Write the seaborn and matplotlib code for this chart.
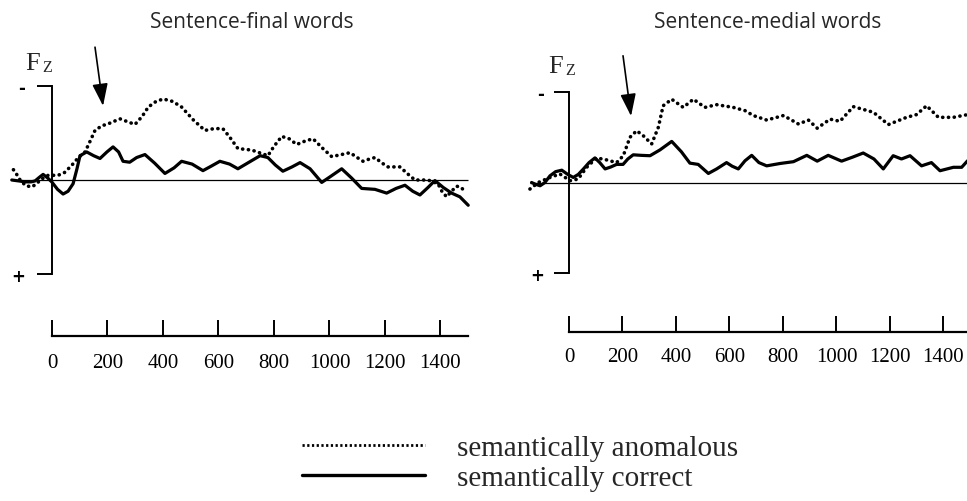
import numpy as np
import pandas as pd
import matplotlib
matplotlib.use('Agg')
import matplotlib.pyplot as plt
import seaborn as sns
from matplotlib.lines import Line2D

# ERP at Fz, values in microvolts (negative plotted up), time in ms
# Sentence-final words
final_correct_t = [-145, -120, -97, -75, -61, -45, -32, -15, -1, 20, 40, 58, 76, 90, 101, 125, 150,
                   173, 198, 220, 240, 256, 280, 305, 335, 370, 407, 440, 467, 505, 544, 575, 605,
                   640, 670, 710, 750, 778, 805, 832, 865, 894, 930, 972, 1000, 1044, 1080, 1116,
                   1164, 1206, 1240, 1272, 1300, 1326, 1355, 1380, 1410, 1440, 1470, 1500]
final_correct_v = [0.0, 0.05, 0.1, 0.1, 0.05, -0.15, -0.3, -0.1, 0.1, 0.5, 0.75, 0.6, 0.2, -0.6,
                   -1.3, -1.5, -1.3, -1.15, -1.5, -1.77, -1.5, -1.0, -0.95, -1.2, -1.36, -0.9, -0.35,
                   -0.65, -1.0, -0.85, -0.5, -0.75, -1.0, -0.85, -0.6, -0.95, -1.3, -1.2, -0.8,
                   -0.47, -0.7, -0.93, -0.6, 0.13, -0.15, -0.6, -0.1, 0.45, 0.5, 0.7, 0.45, 0.28,
                   0.6, 0.8, 0.4, 0.03, 0.4, 0.7, 0.9, 1.35]
final_anom_t = [-139, -125, -115, -95, -73, -55, -43, -14, 22, 45, 71, 95, 119, 135, 155, 180, 202,
                245, 275, 299, 325, 347, 375, 401, 435, 467, 510, 551, 585, 616, 640, 670, 720,
                778, 800, 828, 855, 882, 915, 941, 975, 1008, 1040, 1074, 1100, 1121, 1140, 1164,
                1190, 1211, 1254, 1280, 1308, 1355, 1391, 1405, 1422, 1440, 1458, 1475, 1488]
final_anom_v = [-0.55, -0.25, 0.0, 0.3, 0.37, 0.2, 0.0, -0.25, -0.25, -0.4, -0.78, -1.2, -1.5,
                -2.0, -2.65, -2.9, -3.0, -3.27, -3.1, -2.97, -3.4, -3.9, -4.2, -4.33, -4.2, -3.9,
                -3.2, -2.65, -2.75, -2.74, -2.3, -1.68, -1.6, -1.3, -1.8, -2.33, -2.2, -1.9, -2.1,
                -2.2, -1.7, -1.25, -1.35, -1.46, -1.2, -1.0, -1.1, -1.2, -0.9, -0.7, -0.7, -0.35,
                0.0, 0.0, 0.2, 0.6, 0.9, 0.6, 0.33, 0.4, 0.63]

# Sentence-medial words
medial_correct_t = [-140, -125, -108, -90, -71, -50, -27, -5, 16, 35, 54, 75, 97, 115, 135, 155,
                    178, 202, 220, 240, 270, 303, 340, 384, 420, 452, 483, 521, 552, 589, 610, 633,
                    658, 683, 710, 739, 789, 839, 889, 928, 969, 1019, 1060, 1100, 1140, 1175,
                    1212, 1243, 1275, 1318, 1355, 1387, 1437, 1468, 1490]
medial_correct_v = [0.0, 0.1, 0.18, 0.0, -0.37, -0.6, -0.68, -0.45, -0.28, -0.45, -0.75, -1.1,
                    -1.36, -1.1, -0.75, -0.85, -1.0, -1.0, -1.3, -1.53, -1.5, -1.48, -1.8, -2.27,
                    -1.7, -1.07, -1.0, -0.5, -0.75, -1.1, -0.9, -0.75, -1.2, -1.5, -1.1, -0.92,
                    -1.05, -1.15, -1.5, -1.18, -1.5, -1.18, -1.4, -1.63, -1.3, -0.75, -1.48, -1.3,
                    -1.48, -0.92, -1.1, -0.65, -0.84, -0.84, -1.2]
medial_anom_t = [-146, -115, -71, -34, 4, 34, 66, 103, 140, 178, 203, 228, 253, 278, 309, 334, 352,
                 384, 427, 465, 508, 552, 614, 658, 689, 739, 802, 858, 895, 928, 976, 1013, 1063,
                 1138, 1194, 1262, 1299, 1337, 1381, 1437, 1490]
medial_anom_v = [0.36, 0.0, -0.28, -0.47, -0.1, -0.19, -0.84, -1.36, -1.25, -1.1, -1.48, -2.5,
                 -2.86, -2.58, -2.13, -3.05, -4.24, -4.6, -4.15, -4.6, -4.15, -4.3, -4.15, -3.97,
                 -3.7, -3.45, -3.7, -3.23, -3.45, -3.0, -3.5, -3.38, -4.19, -3.88, -3.2, -3.6,
                 -3.75, -4.24, -3.6, -3.6, -3.75]

titles = ['Sentence-final words', 'Sentence-medial words']
time_ticks = [0, 200, 400, 600, 800, 1000, 1200, 1400]
legend_labels = ['semantically anomalous', 'semantically correct']

sns.set_style('white')
plt.rcParams['font.family'] = ['Liberation Serif', 'DejaVu Serif']

W, H = 967, 502
fig = plt.figure(figsize=(W / 100, H / 100), dpi=100)

def frac(left, top, right, bottom):
    # pixel box -> figure fraction rect
    return [left / W, 1 - bottom / H, (right - left) / W, (bottom - top) / H]

panels = [
    dict(title=titles[0], tc=final_correct_t, vc=final_correct_v,
         ta=final_anom_t, va=final_anom_v,
         main=frac(7.6, 78.1, 471.0, 283.9), time=frac(7.6, 300, 471.0, 337),
         title_x=252, fz=(25, 70), arrow=((155, -7.1), (184, -3.96)), ypad=8.5, xpad=12),
    dict(title=titles[1], tc=medial_correct_t, vc=medial_correct_v,
         ta=medial_anom_t, va=medial_anom_v,
         main=frac(526.2, 83.95, 972.9, 283.05), time=frac(526.2, 296, 972.9, 333),
         title_x=768, fz=(548, 73), arrow=((202, -7.0), (232, -3.67)), ypad=7, xpad=11),
]

for p in panels:
    ax = fig.add_axes(p['main'])
    ax.set_xlim(-160, 1510)
    ax.set_ylim(5.5, -5.5)
    ax.patch.set_alpha(0)

    ax.hlines(0, min(p['tc'][0], p['ta'][0]), 1500, color='black', lw=0.9)
    sns.lineplot(x=p['tc'], y=p['vc'], ax=ax, color='black', lw=2.3,
                 solid_joinstyle='round', solid_capstyle='round',
                 estimator=None, sort=False)
    sns.lineplot(x=p['ta'], y=p['va'], ax=ax, color='black', lw=2.6,
                 linestyle=(0, (0.05, 1.55)), dash_capstyle='round',
                 estimator=None, sort=False)

    for s in ['top', 'right', 'bottom']:
        ax.spines[s].set_visible(False)
    ax.spines['left'].set_position(('data', 0))
    ax.spines['left'].set_bounds(-5, 5)
    ax.spines['left'].set_linewidth(1.4)
    ax.spines['left'].set_color('black')
    ax.set_xticks([])
    ax.set_yticks([-5, 5])
    ax.set_yticklabels(['-', '+'], family='DejaVu Sans', fontweight='bold')
    ax.tick_params(axis='y', direction='out', length=11, width=1.4, pad=p['ypad'],
                   labelsize=12, left=True, colors='black')
    ax.set_xlabel('')
    ax.set_ylabel('')

    (tx, ty), (hx, hy) = p['arrow']
    ax.annotate('', xy=(hx, hy), xytext=(tx, ty), annotation_clip=False,
                arrowprops=dict(arrowstyle='-|>,head_length=0.8,head_width=0.28',
                                color='black', lw=1.2, mutation_scale=17,
                                shrinkA=0, shrinkB=0))

    tax = fig.add_axes(p['time'])
    tax.set_xlim(-160, 1510)
    tax.patch.set_alpha(0)
    for s in ['top', 'right', 'left']:
        tax.spines[s].set_visible(False)
    tax.spines['bottom'].set_bounds(0, 1500)
    tax.spines['bottom'].set_linewidth(1.6)
    tax.spines['bottom'].set_color('black')
    tax.set_xticks(time_ticks)
    tax.set_yticks([])
    tax.tick_params(axis='x', direction='in', length=11.5, width=1.4, pad=p['xpad'],
                    labelsize=15, bottom=True, colors='black')

    fig.text(p['title_x'] / W, 1 - 22 / H, p['title'], ha='center', va='center',
             family='Open Sans', fontsize=15)
    fx, fy = p['fz']
    fig.text(fx / W, 1 - fy / H, 'F', ha='left', va='baseline', fontsize=19)
    fig.text((fx + 17) / W, 1 - (fy + 2) / H, 'Z', ha='left', va='baseline', fontsize=11.5)

handles = [Line2D([], [], color='black', lw=2.0, linestyle=(0, (0.8, 0.9))),
           Line2D([], [], color='black', lw=2.4)]
fig.legend(handles=handles, labels=legend_labels, loc='upper left',
           bbox_to_anchor=(302 / W, 1 - 436 / H), frameon=False, fontsize=21,
           handlelength=4.2, handletextpad=1.1, labelspacing=0.1,
           borderpad=0, borderaxespad=0)

fig.savefig('out.png', dpi=100)
